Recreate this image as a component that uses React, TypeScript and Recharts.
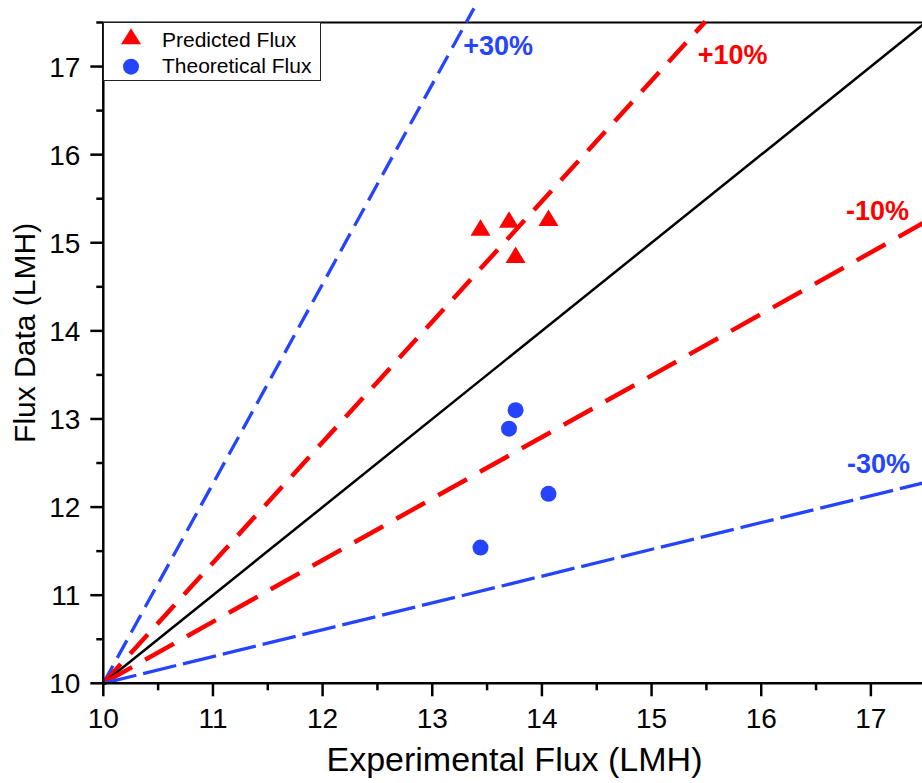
import {
  ScatterChart, Scatter, XAxis, YAxis, ReferenceLine, ReferenceDot, Legend, Label,
} from 'recharts'

const FONT = '"Liberation Sans", Arial, Helvetica, sans-serif'
const RED = '#ff0000'
const BLUE = '#2444ff'

// measured points, paired by experimental flux
const EXPERIMENTAL = [13.44, 13.7, 13.76, 14.06]
const PREDICTED = [15.17, 15.26, 14.86, 15.28]
const THEORETICAL = [11.54, 12.89, 13.1, 12.15]

// error guide lines all start at (10, 10)
const GUIDE_NAMES = ['+30%', '+10%', '0%', '-10%', '-30%']
const GUIDE_END_X = [13.38, 15.49, 17.5, 17.5, 17.5]
const GUIDE_END_Y = [17.66, 17.51, 17.5, 15.24, 12.28]

// where the percentage captions sit (data coords)
const CAPTION_X = [13.6, 15.74, null, 17.06, 17.07]
const CAPTION_Y = [17.24, 17.14, null, 15.37, 12.5]

const X_TICKS = [10, 10.5, 11, 11.5, 12, 12.5, 13, 13.5, 14, 14.5, 15, 15.5, 16, 16.5, 17, 17.5]
const Y_TICKS = [10, 10.5, 11, 11.5, 12, 12.5, 13, 13.5, 14, 14.5, 15, 15.5, 16, 16.5, 17, 17.5]

const GUIDE_STYLE: Record<string, { stroke: string; width: number; dash?: string }> = {
  '+30%': { stroke: BLUE, width: 3.3, dash: '20 9' },
  '+10%': { stroke: RED, width: 4.5, dash: '26 14' },
  '0%': { stroke: '#000', width: 2.5 },
  '-10%': { stroke: RED, width: 4.5, dash: '33 15' },
  '-30%': { stroke: BLUE, width: 3.3, dash: '34 7' },
}

const predictedData = EXPERIMENTAL.map((x, i) => ({ x, y: PREDICTED[i] }))
const theoreticalData = EXPERIMENTAL.map((x, i) => ({ x, y: THEORETICAL[i] }))

const TriangleMark = (props: any) => {
  const { cx, cy } = props
  return <polygon points={`${cx},${cy - 8.5} ${cx - 10},${cy + 8} ${cx + 10},${cy + 8}`} fill={RED} />
}

const CircleMark = (props: any) => <circle cx={props.cx} cy={props.cy} r={8} fill={BLUE} />

const XTick = (props: any) => {
  const x = Number(props.x)
  const y = Number(props.y)
  const v = Number(props.payload.value)
  const major = Number.isInteger(v)
  return (
    <g>
      <path d={`M${x},${y}V${y + (major ? 13 : 7)}`} stroke="#000" strokeWidth={2.5} fill="none" />
      {major && (
        <text x={x} y={y + 45} textAnchor="middle" fontSize={28} fontFamily={FONT} fill="#000">
          {v}
        </text>
      )}
    </g>
  )
}

const YTick = (props: any) => {
  const x = Number(props.x)
  const y = Number(props.y)
  const v = Number(props.payload.value)
  const major = Number.isInteger(v)
  return (
    <g>
      <path d={`M${x},${y}H${x - (major ? 13 : 7)}`} stroke="#000" strokeWidth={2.5} fill="none" />
      {major && (
        <text x={x - 23} y={y + 10} textAnchor="end" fontSize={28} fontFamily={FONT} fill="#000">
          {v}
        </text>
      )}
    </g>
  )
}

function LegendBox({ payload }: any) {
  return (
    <svg width={218} height={59} style={{ display: 'block' }}>
      <rect x={0.5} y={0.5} width={217} height={58} fill="#fff" stroke="#222" strokeWidth={1} />
      {(payload ?? []).map((entry: any, i: number) => {
        const iconY = 14.3 + i * 30.4
        const textY = 24.7 + i * 26.6
        return (
          <g key={entry.value}>
            {entry.type === 'triangle' ? (
              <polygon points={`28,${iconY - 8} 18,${iconY + 8} 38,${iconY + 8}`} fill={entry.color} />
            ) : (
              <circle cx={28} cy={iconY} r={8} fill={entry.color} />
            )}
            <text x={59} y={textY} fontSize={21} fontFamily={FONT} fill="#000">
              {entry.value}
            </text>
          </g>
        )
      })}
    </svg>
  )
}

export default function App() {
  return (
    <div style={{ position: 'absolute', left: 0, top: 0, width: 922, height: 783, overflow: 'hidden', background: '#fff' }}>
      <ScatterChart width={930} height={783} margin={{ top: 22.5, right: 4.3, bottom: 0, left: 0 }}>
        <XAxis
          type="number"
          dataKey="x"
          domain={[10, 17.5]}
          ticks={X_TICKS}
          interval={0}
          allowDataOverflow
          height={99.7}
          tickLine={false}
          tickSize={0}
          tickMargin={0}
          tick={XTick}
          axisLine={{ stroke: '#000', strokeWidth: 2.5 }}
        >
          <Label
            value="Experimental Flux (LMH)"
            position="insideBottom"
            offset={12}
            style={{ fontSize: 34, fontFamily: FONT, fill: '#000' }}
          />
        </XAxis>
        <YAxis
          type="number"
          dataKey="y"
          domain={[10, 17.5]}
          ticks={Y_TICKS}
          interval={0}
          allowDataOverflow
          width={103.3}
          tickLine={false}
          tickSize={0}
          tickMargin={0}
          tick={YTick}
          axisLine={{ stroke: '#000', strokeWidth: 2.5 }}
        >
          <Label
            content={({ viewBox }: any) => {
              const cy = viewBox.y + viewBox.height / 2 - 20
              return (
                <text
                  x={35}
                  y={cy}
                  transform={`rotate(-90, 35, ${cy})`}
                  textAnchor="middle"
                  fontSize={30}
                  fontFamily={FONT}
                  fill="#000"
                >
                  Flux Data (LMH)
                </text>
              )
            }}
          />
        </YAxis>

        <ReferenceLine y={17.5} stroke="#000" strokeWidth={2} ifOverflow="visible" />

        {GUIDE_NAMES.map((name, i) => {
          const s = GUIDE_STYLE[name]
          return (
            <ReferenceLine
              key={name}
              segment={[{ x: 10, y: 10 }, { x: GUIDE_END_X[i], y: GUIDE_END_Y[i] }]}
              stroke={s.stroke}
              strokeWidth={s.width}
              strokeDasharray={s.dash}
              ifOverflow="visible"
            />
          )
        })}

        {GUIDE_NAMES.map((name, i) =>
          CAPTION_X[i] == null ? null : (
            <ReferenceDot
              key={`cap-${name}`}
              x={CAPTION_X[i] as number}
              y={CAPTION_Y[i] as number}
              r={0}
              fill="none"
              stroke="none"
              ifOverflow="visible"
              label={{
                value: name,
                position: 'center',
                fill: GUIDE_STYLE[name].stroke,
                fontSize: 27,
                fontWeight: 'bold',
                fontFamily: FONT,
              }}
            />
          ),
        )}

        <Scatter
          name="Predicted Flux"
          data={predictedData}
          fill={RED}
          legendType="triangle"
          shape={<TriangleMark />}
          isAnimationActive={false}
        />
        <Scatter
          name="Theoretical Flux"
          data={theoreticalData}
          fill={BLUE}
          legendType="circle"
          shape={<CircleMark />}
          isAnimationActive={false}
        />

        <Legend
          layout="vertical"
          align="center"
          verticalAlign="middle"
          wrapperStyle={{ left: 103, top: 22, width: 218, height: 59 }}
          content={<LegendBox />}
        />
      </ScatterChart>
    </div>
  )
}
